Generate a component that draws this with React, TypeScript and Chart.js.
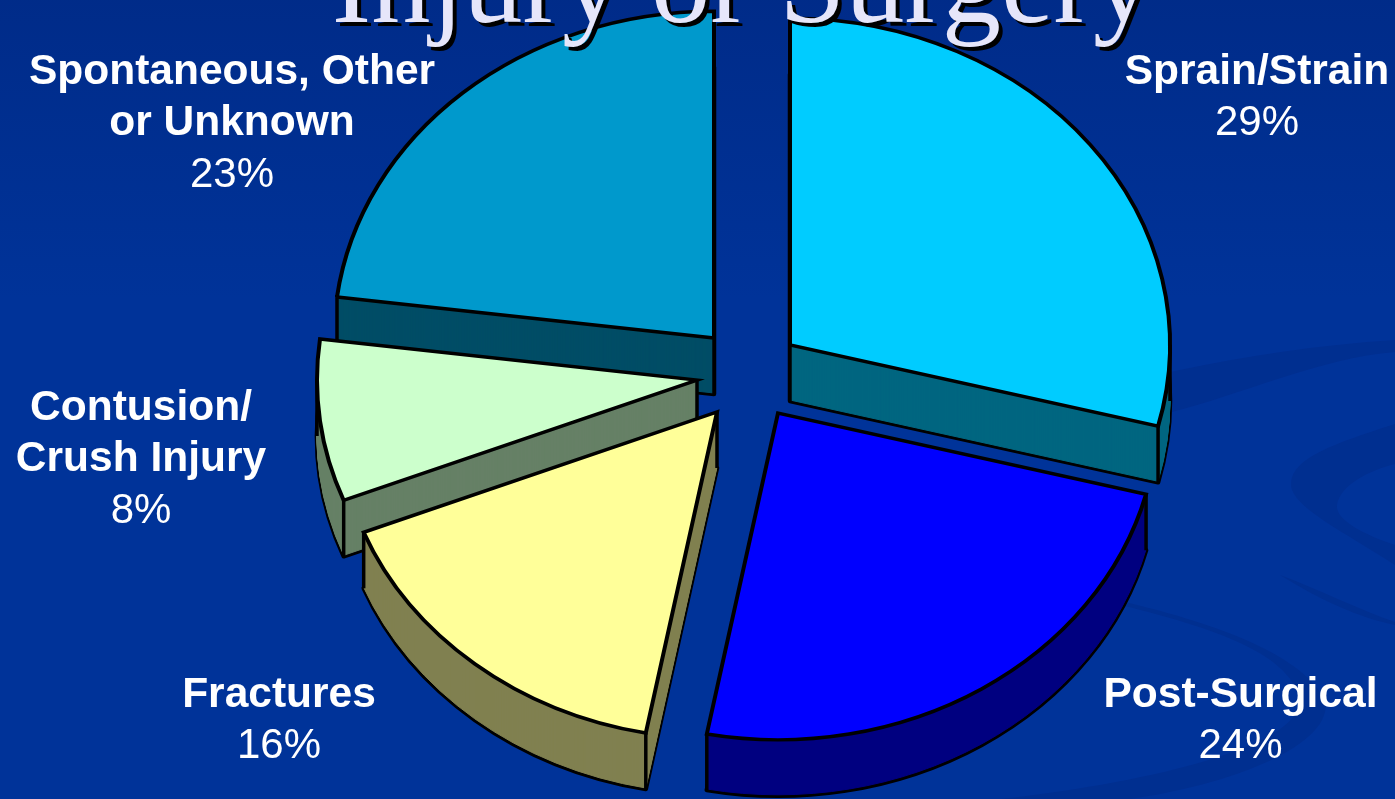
import React, { useEffect, useRef } from "react";
import { Chart, registerables } from "chart.js";

Chart.register(...registerables);

const categories = ["Sprain/Strain", "Post-Surgical", "Fractures", "Contusion/ Crush Injury", "Spontaneous, Other or Unknown"];
const shares = [29, 24, 16, 8, 23];
const topColors = ["#00CCFF", "#0000FF", "#FFFF99", "#CCFFCC", "#0099CC"];
const wallColors = ["#006680", "#000080", "#808050", "#668066", "#004D66"];
const sliceShiftX = [40, 28, -33, -53, -36];
const sliceShiftY = [-35, 33, 32, 0, -42];
const drawOrder = [4, 0, 3, 2, 1];
const labelLines = [["Sprain/Strain"], ["Post-Surgical"], ["Fractures"], ["Contusion/", "Crush Injury"], ["Spontaneous, Other", "or Unknown"]];
const labelX = [1257, 1240.5, 279, 141, 232];
const labelY = [84, 707, 707, 420, 84];
const titleText = "Injury or Surgery";

const W = 1395;
const H = 799;
const SQUASH = 0.86;
const DEPTH = 56;
const LINE_STEP = 51.3;

function drawBackground(ctx: CanvasRenderingContext2D) {
  ctx.save();
  ctx.fillStyle = "#003399";
  ctx.fillRect(0, 0, W, H);
  const top = ctx.createLinearGradient(0, 0, 0, 300);
  top.addColorStop(0, "rgba(0,40,130,0.7)");
  top.addColorStop(1, "rgba(0,40,130,0)");
  ctx.fillStyle = top;
  ctx.fillRect(0, 0, W, 300);
  ctx.fillStyle = "#002F90";
  ctx.beginPath();
  ctx.moveTo(1395, 424);
  ctx.bezierCurveTo(1330, 445, 1285, 460, 1292, 490);
  ctx.bezierCurveTo(1300, 510, 1340, 530, 1395, 565);
  ctx.lineTo(1395, 545);
  ctx.bezierCurveTo(1365, 535, 1335, 520, 1337, 505);
  ctx.bezierCurveTo(1340, 485, 1370, 470, 1395, 464);
  ctx.closePath();
  ctx.fill();
  ctx.beginPath();
  ctx.moveTo(1170, 372);
  ctx.bezierCurveTo(1250, 355, 1320, 345, 1395, 340);
  ctx.lineTo(1395, 352);
  ctx.bezierCurveTo(1320, 358, 1240, 395, 1172, 412);
  ctx.closePath();
  ctx.fill();
  ctx.beginPath();
  ctx.moveTo(1125, 602);
  ctx.bezierCurveTo(1200, 620, 1300, 650, 1325, 700);
  ctx.bezierCurveTo(1335, 745, 1230, 785, 1130, 799);
  ctx.lineTo(1000, 799);
  ctx.bezierCurveTo(1130, 785, 1300, 750, 1300, 700);
  ctx.bezierCurveTo(1290, 650, 1200, 625, 1125, 606);
  ctx.closePath();
  ctx.fill();
  ctx.beginPath();
  ctx.moveTo(1280, 575);
  ctx.bezierCurveTo(1320, 590, 1360, 610, 1395, 622);
  ctx.lineTo(1395, 625);
  ctx.bezierCurveTo(1360, 618, 1320, 600, 1280, 575);
  ctx.closePath();
  ctx.fill();
  ctx.restore();
}

function sectorPath(ctx: CanvasRenderingContext2D, cx: number, cy: number, r: number, a0: number, a1: number) {
  ctx.beginPath();
  ctx.moveTo(cx, cy);
  ctx.ellipse(cx, cy, r, r * SQUASH, 0, a0, a1);
  ctx.closePath();
}

function containsAngle(a: number, a0: number, a1: number) {
  const t = Math.PI * 2;
  for (let k = -1; k <= 2; k++) {
    const v = a + k * t;
    if (v >= a0 && v <= a1) return true;
  }
  return false;
}

function drawWall(ctx: CanvasRenderingContext2D, el: any, i: number, cx: number, cy: number) {
  const { startAngle: a0, endAngle: a1, outerRadius: r } = el;
  ctx.save();
  ctx.lineJoin = "round";
  ctx.strokeStyle = "#000";
  ctx.lineWidth = 4.5;
  sectorPath(ctx, cx, cy + DEPTH, r, a0, a1);
  ctx.stroke();
  ctx.fillStyle = wallColors[i];
  ctx.strokeStyle = wallColors[i];
  ctx.lineWidth = 1;
  for (let d = DEPTH - 1; d >= 0; d--) {
    sectorPath(ctx, cx, cy + d, r, a0, a1);
    ctx.fill();
    ctx.stroke();
  }
  ctx.strokeStyle = "#000";
  ctx.lineWidth = 3.5;
  const verticals = [[cx, cy]];
  for (const a of [a0, a1, 0, Math.PI]) {
    if (containsAngle(a, a0, a1)) {
      verticals.push([cx + Math.cos(a) * r, cy + Math.sin(a) * r * SQUASH]);
    }
  }
  for (const [x, y] of verticals) {
    ctx.beginPath();
    ctx.moveTo(x, y);
    ctx.lineTo(x, y + DEPTH);
    ctx.stroke();
  }
  ctx.restore();
}

const piePlugin = {
  id: "extrudedPie",
  beforeDraw(chart: any) {
    drawBackground(chart.ctx);
  },
  beforeDatasetDraw(chart: any, args: any) {
    const ctx = chart.ctx;
    for (const i of drawOrder) {
      const el = args.meta.data[i];
      const cx = el.x + sliceShiftX[i];
      const cy = el.y + sliceShiftY[i];
      drawWall(ctx, el, i, cx, cy);
      ctx.save();
      ctx.translate(cx, cy);
      ctx.scale(1, SQUASH);
      ctx.translate(-el.x, -el.y);
      el.draw(ctx);
      ctx.restore();
    }
    return false;
  },
  afterDatasetsDraw(chart: any) {
    const ctx = chart.ctx;
    ctx.save();
    ctx.textAlign = "center";
    ctx.textBaseline = "alphabetic";
    ctx.fillStyle = "#FFFFFF";
    categories.forEach((_, i) => {
      let y = labelY[i];
      ctx.font = "bold 42.5px 'Liberation Sans'";
      for (const line of labelLines[i]) {
        ctx.fillText(line, labelX[i], y);
        y += LINE_STEP;
      }
      ctx.font = "42px 'Liberation Sans'";
      ctx.fillText(`${shares[i]}%`, labelX[i], y);
    });
    ctx.font = "118.5px 'Liberation Serif'";
    ctx.fillStyle = "#000000";
    ctx.fillText(titleText, 746, 26);
    ctx.fillStyle = "#E6E6FA";
    ctx.fillText(titleText, 742, 22);
    ctx.restore();
  },
};

export default function App() {
  const ref = useRef<HTMLCanvasElement | null>(null);
  useEffect(() => {
    if (!ref.current) return;
    const chart = new Chart(ref.current, {
      type: "pie",
      data: {
        labels: categories,
        datasets: [
          {
            data: shares,
            backgroundColor: topColors,
            borderColor: "#000000",
            borderWidth: 4,
            borderJoinStyle: "miter",
          },
        ],
      },
      options: {
        responsive: false,
        animation: false,
        radius: 380,
        layout: { padding: { left: 105, bottom: 39 } },
        plugins: { legend: { display: false }, tooltip: { enabled: false }, title: { display: false } },
      },
      plugins: [piePlugin],
    } as any);
    return () => chart.destroy();
  }, []);
  return (
    <div style={{ position: "fixed", left: 0, top: 0, width: W, height: H, overflow: "hidden" }}>
      <canvas ref={ref} width={W} height={H} style={{ display: "block" }} />
    </div>
  );
}
